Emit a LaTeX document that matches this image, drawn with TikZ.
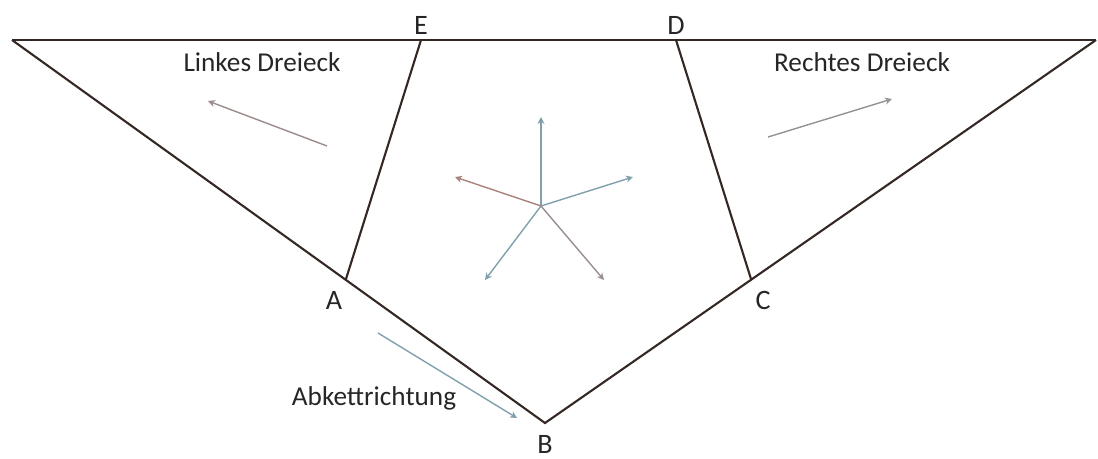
\documentclass[tikz,border=0pt]{standalone}
\usepackage{fontspec}
\setmainfont{Carlito}
\usepackage{xcolor}
\usepackage{tikz}
\usetikzlibrary{arrows.meta}
\definecolor{kante}{RGB}{52,40,36}
\definecolor{pfeil}{RGB}{128,160,172}
\definecolor{pfeilrot}{RGB}{170,130,125}

\begin{document}
\begin{tikzpicture}[x=0.02cm,y=-0.02cm,
  kante/.style={draw=kante,line width=1.2pt},
  richtung/.style={draw=pfeil,line width=0.8pt,-{Stealth[length=4pt,width=4pt]}},
  beschriftung/.style={font=\fontsize{15.5}{17}\selectfont,text=black!85},
  punkt/.style={font=\fontsize{16}{18}\selectfont,text=black!85,inner sep=1pt}]
\useasboundingbox (0,0) rectangle (1098,459);
% Eckpunkte
\coordinate (L) at (12,40);
\coordinate (R) at (1096,40);
\coordinate (E) at (421,40);
\coordinate (D) at (676,40);
\coordinate (A) at (346,279);
\coordinate (C) at (751,279);
\coordinate (B) at (545,423);
\draw[kante](L)--(R);
\draw[kante](L)--(B)--(R);
\draw[kante](E)--(A);
\draw[kante](D)--(C);
\node[punkt,above=2pt] at (E) {E};
\node[punkt,above=2pt] at (D) {D};
\node[punkt] (a) at (334,300) {A};
\node[punkt] (c) at (763,300) {C};
\node[punkt] (b) at (545,444) {B};
\node[beschriftung] (links) at (262,62) {Linkes Dreieck};
\node[beschriftung] (rechts) at (862,62) {Rechtes Dreieck};
\node[beschriftung] (abk) at (374,398) {Abkettrichtung};
% Pfeile
\coordinate (l1) at (327,146);
\coordinate (l2) at (208,101);
\coordinate (r1) at (768,137);
\coordinate (r2) at (892,99);
\coordinate (k1) at (378,333);
\coordinate (k2) at (517,418);
\draw[richtung,draw=pfeilrot!70!pfeil](l1)--(l2);
\draw[richtung,draw=pfeilrot!50!pfeil](r1)--(r2);
\draw[richtung](k1)--(k2);
% Stern
\coordinate (m) at (541,206);
\coordinate (s1) at (541,117);
\coordinate (s2) at (633,177);
\coordinate (s3) at (455,177);
\coordinate (s4) at (485,280);
\coordinate (s5) at (604,280);
\draw[richtung](m)--(s1);
\draw[richtung](m)--(s2);
\draw[richtung,draw=pfeilrot](m)--(s3);
\draw[richtung](m)--(s4);
\draw[richtung,draw=pfeilrot!60!pfeil](m)--(s5);
\end{tikzpicture}
\end{document}
